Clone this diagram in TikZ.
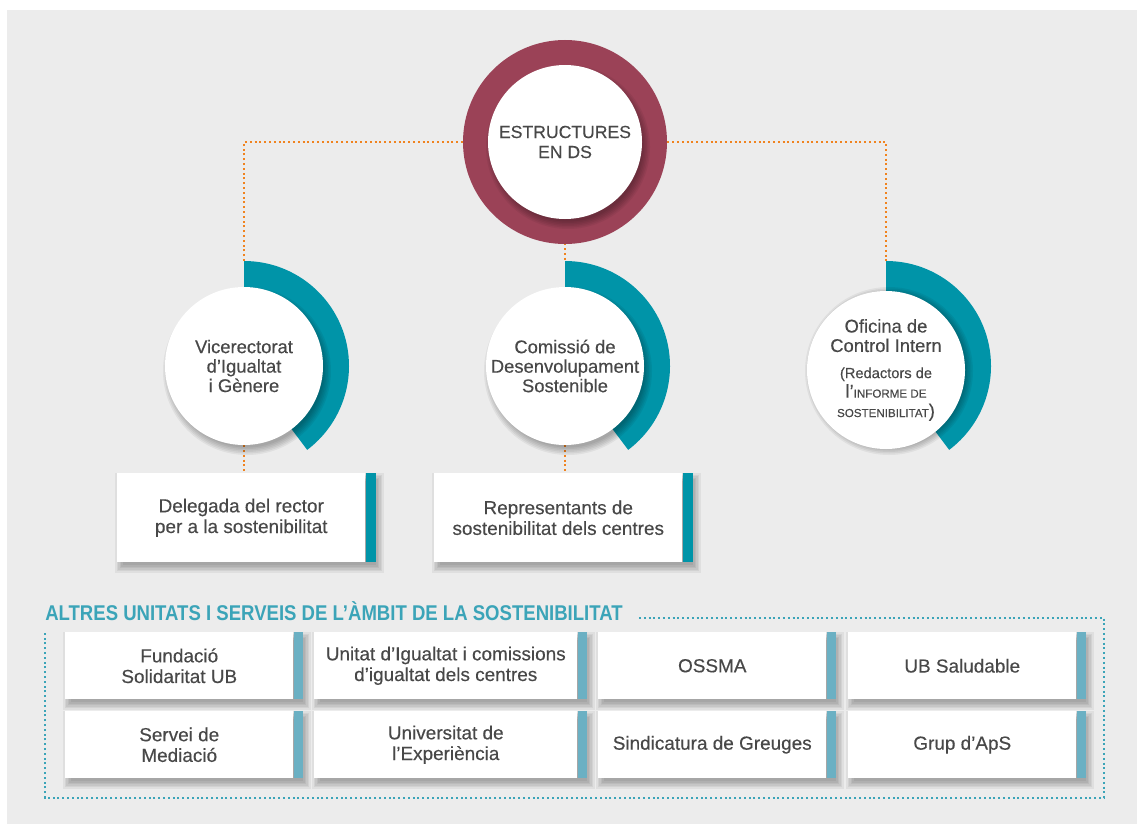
\documentclass[tikz,border=0pt]{standalone}
\usepackage{fontspec}
\setmainfont{Liberation Sans}[FakeBold=0.3]
\newfontfamily\titolfont[FakeStretch=0.87]{Liberation Sans}
\usetikzlibrary{calc,positioning,backgrounds}

\definecolor{fons}{HTML}{ECECEC}
\definecolor{granat}{HTML}{9B4257}
\definecolor{blauverd}{HTML}{0094A8}
\definecolor{blauclar}{HTML}{6BB0C3}
\definecolor{taronja}{HTML}{F0831F}
\definecolor{titol}{HTML}{3BA4B8}
\definecolor{lletra}{HTML}{484848}

\pgfdeclarelayer{ombres}
\pgfsetlayers{background,ombres,main}

\tikzset{
    cercle/.style={circle, fill=white, minimum size=118.5pt, inner sep=0pt, align=center, text=lletra, font=\fontsize{13.8}{14.6}\selectfont},
    caixa/.style={rectangle, fill=white, anchor=north west, inner sep=0pt, align=center, text=lletra, font=\fontsize{14.2}{15.5}\selectfont},
    puntstaronja/.style={draw=taronja, line width=1.5pt, dash pattern=on 1.5pt off 2.1pt},
    puntsblaus/.style={draw=titol, line width=1.5pt, dash pattern=on 1.5pt off 2.1pt},
    capaombra/.style={fill=black, opacity=0.055}
}

\newcommand{\arcblau}[1]{\fill[blauverd] ($(#1)+(90:105)$) arc[start angle=90, end angle=-53, radius=105] -- ($(#1)+(-53:68)$) arc[start angle=-53, end angle=90, radius=68] -- cycle;}
% soft shadow under a circle: centre, radius
\newcommand{\ombracercle}[2]{\begin{pgfonlayer}{ombres}
    \foreach \k in {0,...,5} {\fill[capaombra] ($(#1)+(3,-5)$) circle[radius={#2-2.5+1.5*\k}];}
    \end{pgfonlayer}}
% soft shadow under a box and its strip: node, strip width
\newcommand{\ombracaixa}[2]{\begin{pgfonlayer}{ombres}
    \foreach \k in {0,...,5} {\fill[capaombra] ($(#1.south west)+(3+2.5-1.5*\k,-5+2.5-1.5*\k)$) rectangle ($(#1.north east)+(#2+3-2.5+1.5*\k,-5-2.5+1.5*\k)$);}
    \end{pgfonlayer}}

\begin{document}
\begin{tikzpicture}[x=0.75pt, y=0.75pt]

        \useasboundingbox (0,0) rectangle (1137,-824);
        \begin{pgfonlayer}{background}
            \fill[fons] (7,-10) rectangle (1137,-824);
        \end{pgfonlayer}

        %% central structure
        \coordinate (cDs) at (565,-142);
        \begin{pgfonlayer}{ombres}
            \fill[granat] (cDs) circle[radius=102];
        \end{pgfonlayer}
        \node (dsint) [cercle, minimum size=115.5pt, font=\fontsize{13.2}{15}\selectfont] at (cDs) {ESTRUCTURES\\EN DS};
        \ombracercle{cDs}{77}

        %% circles with arcs
        \coordinate (cVic) at (244,-366);
        \coordinate (cCom) at (565,-366);
        \coordinate (cOfi) at (886,-366);
        \coordinate (aVic) at ($(cVic)+(0,105)$);
        \coordinate (aCom) at ($(cCom)+(0,105)$);
        \coordinate (aOfi) at ($(cOfi)+(0,105)$);

        \begin{pgfonlayer}{ombres}
            \arcblau{cVic}
            \arcblau{cCom}
            \arcblau{cOfi}
        \end{pgfonlayer}

        \node (vic) [cercle] at (cVic) {Vicerectorat\\d’Igualtat\\i Gènere};
        \node (com) [cercle] at (cCom) {Comissió de\\Desenvolupament\\Sostenible};
        \node (ofi) [cercle, yshift=-3] at (cOfi) {Oficina de\\Control Intern\\[5pt]%
            \fontsize{11}{15}\selectfont(Redactors de\\%
            l’{\fontsize{8.7}{15}\selectfont INFORME DE}\\%
            {\fontsize{8.7}{15}\selectfont SOSTENIBILITAT})};
        \ombracercle{cVic}{79}
        \ombracercle{cCom}{79}
        \ombracercle{cOfi}{79}

        %% boxes under circles
        \node (del) [caixa, minimum width=186pt, minimum height=66.75pt] at (117,-473) {Delegada del rector\\per a la sostenibilitat};
        \fill[blauverd] (del.north east) rectangle ++(10,-89);
        \ombracaixa{del}{10}
        \node (rep) [caixa, minimum width=186pt, minimum height=66.75pt] at (434,-473) {Representants de\\sostenibilitat dels centres};
        \fill[blauverd] (rep.north east) rectangle ++(10,-89);
        \ombracaixa{rep}{10}

        %% other units
        \node (hdr) [anchor=west, inner sep=0pt, text=titol, font=\titolfont\bfseries\fontsize{16}{16}\selectfont] at (45,-611) {ALTRES UNITATS I SERVEIS DE L’ÀMBIT DE LA SOSTENIBILITAT};

        \node (u1) [caixa, minimum width=171pt, minimum height=50.25pt] at (65,-632) {Fundació\\Solidaritat UB};
        \node (u2) [caixa, minimum width=197.25pt, minimum height=50.25pt] at (314,-632) {Unitat d’Igualtat i comissions\\d’igualtat dels centres};
        \node (u3) [caixa, minimum width=171pt, minimum height=50.25pt] at (598,-632) {OSSMA};
        \node (u4) [caixa, minimum width=171pt, minimum height=50.25pt] at (848,-632) {UB Saludable};
        \node (u5) [caixa, minimum width=171pt, minimum height=50.25pt] at (65,-711) {Servei de\\Mediació};
        \node (u6) [caixa, minimum width=197.25pt, minimum height=50.25pt] at (314,-711) {Universitat de\\l’Experiència};
        \node (u7) [caixa, minimum width=171pt, minimum height=50.25pt] at (598,-711) {Sindicatura de Greuges};
        \node (u8) [caixa, minimum width=171pt, minimum height=50.25pt] at (848,-711) {Grup d’ApS};
        \foreach \u in {u1,u2,u3,u4,u5,u6,u7,u8} {
            \fill[blauclar] (\u.north east) rectangle ++(9,-67);
            \ombracaixa{\u}{9}
        }

        %% dotted lines
        \begin{pgfonlayer}{background}
            \draw[puntstaronja] (aVic) |- (dsint.center) -| (aOfi);
            \draw[puntstaronja] (dsint.south) -- (aCom);
            \draw[puntstaronja] (vic.south) -- (vic.south |- del.north);
            \draw[puntstaronja] (com.south) -- (com.south |- rep.north);
            \draw[puntsblaus] ($(hdr.east)+(16,-7)$) -- (1104,-618) -- (1104,-798) -- (45,-798) -- (45,-632);
        \end{pgfonlayer}

\end{tikzpicture}
\end{document}
